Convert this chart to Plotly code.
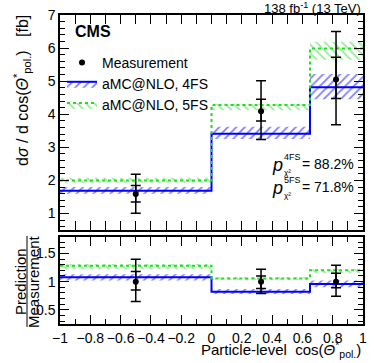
import plotly.graph_objects as go

# bin edges and measurement
edges = [-1.0, 0.0, 0.65, 1.0]
meas_x = [-0.5, 0.327, 0.822]
meas_y = [1.59, 4.09, 5.05]
meas_tot_up = [2.19, 5.01, 6.50]
meas_tot_dn = [1.01, 3.24, 3.68]
meas_stat_up = [1.85, 4.45, 5.72]
meas_stat_dn = [1.35, 3.80, 4.48]

# predictions (central, low, high)
fs4 = [1.69, 3.41, 4.82]
fs4_lo = [1.60, 3.25, 4.45]
fs4_hi = [1.80, 3.62, 5.22]
fs5 = [2.00, 4.28, 5.99]
fs5_lo = [1.93, 4.12, 5.65]
fs5_hi = [2.08, 4.32, 6.19]

# ratio panel
r_meas = [1.0, 1.0, 1.0]
r_tot_up = [1.395, 1.22, 1.29]
r_tot_dn = [0.65, 0.79, 0.74]
r_stat_up = [1.18, 1.10, 1.15]
r_stat_dn = [0.85, 0.88, 0.89]
r4 = [1.078, 0.82, 0.96]
r4_lo = [1.02, 0.78, 0.90]
r4_hi = [1.13, 0.87, 1.02]
r5 = [1.28, 1.055, 1.20]
r5_lo = [1.22, 1.03, 1.15]
r5_hi = [1.31, 1.08, 1.22]

FONT = "Liberation Sans, Arial, sans-serif"
BLUE = "#0000ff"
GREEN = "#22dd22"


def px_x(p):
    # pixel x -> paper x (plot area 60..363)
    return (p - 60) / 303


def px_y(p):
    # pixel y -> paper y (plot area 15..324)
    return (324 - p) / 309


def step(v):
    return v + [v[-1]]


def band(fig, lo, c, hi, color, shape, dash, name, yaxis, show, rank):
    pat = dict(shape=shape, fgcolor=color, bgcolor="rgba(0,0,0,0)", size=6, solidity=0.3)
    fig.add_scatter(x=edges, y=step(lo), mode="lines", line=dict(width=0, shape="hv"),
                    yaxis=yaxis, showlegend=False, hoverinfo="skip")
    fig.add_scatter(x=edges, y=step(c), mode="lines", name=name, showlegend=show,
                    legendrank=rank,
                    line=dict(color=color, width=2, shape="hv", dash=dash),
                    fill="tonexty", fillcolor="rgba(0,0,0,0)", fillpattern=pat,
                    yaxis=yaxis)
    fig.add_scatter(x=edges, y=step(hi), mode="lines", line=dict(width=0, shape="hv"),
                    fill="tonexty", fillcolor="rgba(0,0,0,0)", fillpattern=pat,
                    yaxis=yaxis, showlegend=False, hoverinfo="skip")


def points(fig, y, tu, td, su, sd, yaxis, show):
    fig.add_scatter(x=meas_x, y=y, mode="markers", name="Measurement", showlegend=show,
                    legendrank=1, marker=dict(color="black", size=6),
                    error_y=dict(type="data", symmetric=False,
                                 array=[a - b for a, b in zip(tu, y)],
                                 arrayminus=[b - a for a, b in zip(td, y)],
                                 color="black", thickness=1.5, width=5),
                    yaxis=yaxis)
    fig.add_scatter(x=meas_x, y=y, mode="markers", showlegend=False,
                    marker=dict(color="black", size=1),
                    error_y=dict(type="data", symmetric=False,
                                 array=[a - b for a, b in zip(su, y)],
                                 arrayminus=[b - a for a, b in zip(sd, y)],
                                 color="black", thickness=1.5, width=5),
                    yaxis=yaxis, hoverinfo="skip")


fig = go.Figure()
band(fig, fs4_lo, fs4, fs4_hi, BLUE, "/", "solid", "aMC@NLO, 4FS", "y", True, 2)
band(fig, fs5_lo, fs5, fs5_hi, GREEN, "\\", "dot", "aMC@NLO, 5FS", "y", True, 3)
points(fig, meas_y, meas_tot_up, meas_tot_dn, meas_stat_up, meas_stat_dn, "y", True)
band(fig, r4_lo, r4, r4_hi, BLUE, "/", "solid", "", "y2", False, 4)
band(fig, r5_lo, r5, r5_hi, GREEN, "\\", "dot", "", "y2", False, 5)
points(fig, r_meas, r_tot_up, r_tot_dn, r_stat_up, r_stat_dn, "y2", False)

axis_common = dict(showline=True, linecolor="black", linewidth=1.5, mirror="allticks",
                   ticks="inside", ticklen=9, tickcolor="black", showgrid=False,
                   zeroline=False, automargin=False, tickfont=dict(size=14, color="black"))
minor_x = dict(dtick=0.1, ticks="inside", ticklen=5, tickcolor="black")

fig.update_layout(
    width=374, height=363,
    margin=dict(l=60, r=11, t=15, b=39),
    paper_bgcolor="white", plot_bgcolor="white",
    font=dict(family=FONT, color="black"),
    xaxis=dict(range=[-1, 1], dtick=0.2, anchor="y2", minor=minor_x, **axis_common),
    xaxis2=dict(range=[-1, 1], dtick=0.2, overlaying="x", anchor="y", showticklabels=False,
                minor=minor_x, **axis_common),
    yaxis=dict(range=[0.5, 7], domain=[0.304, 1], tickvals=[1, 2, 3, 4, 5, 6, 7],
               minor=dict(dtick=0.2, ticks="inside", ticklen=5, tickcolor="black"),
               **axis_common),
    yaxis2=dict(range=[0.25, 1.79], domain=[0, 0.2816], tickvals=[0.5, 1, 1.5],
                minor=dict(dtick=0.1, ticks="inside", ticklen=5, tickcolor="black"),
                **axis_common),
    legend=dict(x=px_x(62), y=px_y(47), xanchor="left", yanchor="top", bgcolor="rgba(0,0,0,0)",
                font=dict(size=14), itemwidth=30, traceorder="normal"),
)

annotations = [
    dict(text="<b>CMS</b>", x=px_x(73), y=px_y(31), yanchor="middle", font=dict(size=16)),
    dict(text="138 fb<sup>-1</sup> (13 TeV)", x=1.0, y=px_y(8), xanchor="right",
         yanchor="middle", font=dict(size=13)),
    dict(text="Particle-level  cos(<i>Θ</i><sup>*</sup><sub>pol.</sub>)", x=1.0, y=px_y(349),
         xanchor="right", yanchor="middle", font=dict(size=15)),
    dict(text="d<i>σ</i> / d cos(<i>Θ</i><sup>*</sup><sub>pol.</sub>)   [fb]", x=px_x(22),
         y=px_y(91), xanchor="center", yanchor="middle", textangle=-90, font=dict(size=16)),
    dict(text="Prediction", x=px_x(20), y=px_y(282), textangle=-90,
         xanchor="center", yanchor="middle", font=dict(size=15)),
    dict(text="Measurement", x=px_x(33), y=px_y(282), textangle=-90,
         xanchor="center", yanchor="middle", font=dict(size=15)),
]
p_rows = [("4FS", "88.2%", 164), ("5FS", "71.8%", 187)]
for tag, val, yc in p_rows:
    annotations += [
        dict(text="<i>p</i>", x=px_x(277), y=px_y(yc + 1), xanchor="center",
             yanchor="middle", font=dict(size=18)),
        dict(text=tag, x=px_x(282), y=px_y(yc - 7), xanchor="left", yanchor="middle",
             font=dict(size=9)),
        dict(text="χ²", x=px_x(282), y=px_y(yc + 8), xanchor="left", yanchor="middle",
             font=dict(size=8)),
        dict(text="= " + val, x=px_x(300), y=px_y(yc), xanchor="left", yanchor="middle",
             font=dict(size=14)),
    ]
for a in annotations:
    a.update(showarrow=False, xref="paper", yref="paper")
    a.setdefault("xanchor", "left")
fig.update_layout(annotations=annotations)
fig.add_shape(type="line", xref="paper", yref="paper", x0=px_x(27), x1=px_x(27),
              y0=px_y(327), y1=px_y(236), line=dict(color="black", width=1))

fig.write_html("out.html", config={"displayModeBar": False},
               post_script="document.body.style.margin='0';")
